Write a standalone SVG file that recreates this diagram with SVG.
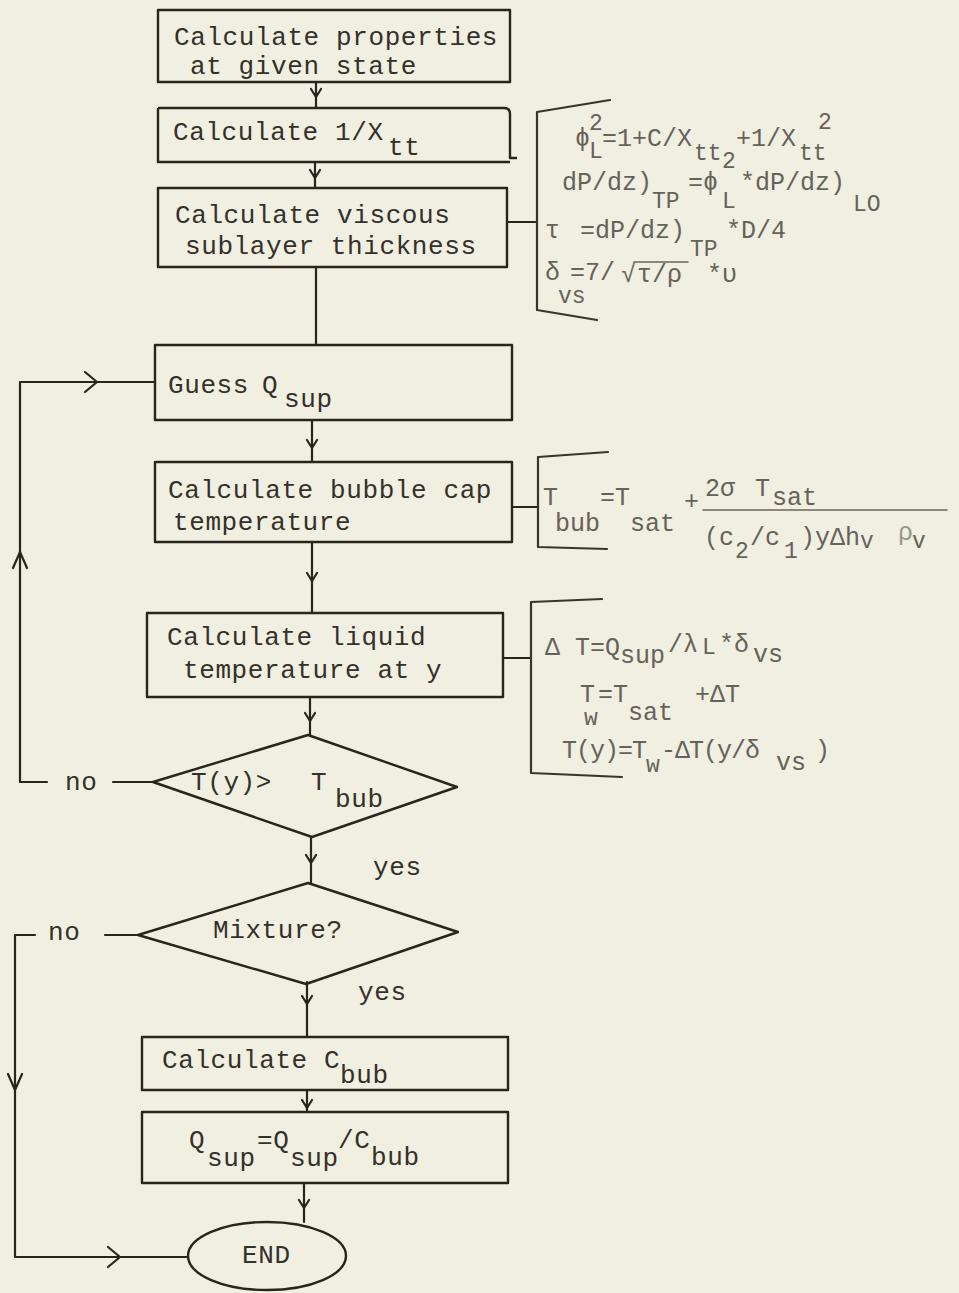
<svg xmlns="http://www.w3.org/2000/svg" width="959" height="1293" viewBox="0 0 959 1293">
<defs>
<style>
.bg{fill:#f1eee2}
.box{fill:none;stroke:#2a241c;stroke-width:2.4;stroke-linejoin:round}
.ln{fill:none;stroke:#2a241c;stroke-width:2.2;stroke-linecap:round;stroke-linejoin:round}
.br{fill:none;stroke:#3a342c;stroke-width:2.2;stroke-linecap:round;stroke-linejoin:round}
.t{font-family:"Liberation Mono","DejaVu Sans Mono",monospace;font-size:26px;letter-spacing:0.6px;fill:#35302a}
.e{font-family:"Liberation Mono","DejaVu Sans Mono",monospace;font-size:25px;fill:#66625a}
.s{font-size:23px}
.f{fill:#9a968c}
</style>
<path id="sd" class="ln" d="M-5,-8 L0,0 L5,-8"/>
<path id="bd" class="ln" d="M-7,-16 L0,0 L7,-16"/>
<path id="brt" class="ln" d="M-12,-10 L0,0 L-12,10"/>
<path id="bu" class="ln" d="M-7,16 L0,0 L7,16"/>
</defs>
<rect class="bg" x="0" y="0" width="959" height="1293"/>

<g id="connectors">
<path class="ln" d="M316,82 V108"/><use href="#sd" x="316" y="97"/>
<path class="ln" d="M315,162 V188"/><use href="#sd" x="315" y="178"/>
<path class="ln" d="M316,267 V345"/>
<path class="ln" d="M312,420 V462"/><use href="#sd" x="312" y="448"/>
<path class="ln" d="M312,542 V613"/><use href="#sd" x="312" y="581"/>
<path class="ln" d="M310,697 V735"/><use href="#sd" x="310" y="721"/>
<path class="ln" d="M311,837 V883"/><use href="#sd" x="311" y="863"/>
<path class="ln" d="M307,982 V1037"/><use href="#sd" x="307" y="1004"/>
<path class="ln" d="M307,1090 V1112"/><use href="#sd" x="307" y="1108"/>
<path class="ln" d="M304,1183 V1222"/><use href="#sd" x="304" y="1208"/>
<path class="ln" d="M153,782 H113"/>
<path class="ln" d="M47,782 H20 V382 H155"/>
<use href="#brt" x="97" y="382"/>
<use href="#bu" x="20" y="552"/>
<path class="ln" d="M138,935 H105"/>
<path class="ln" d="M35,935 H15 V1257 H188"/>
<use href="#bd" x="15" y="1090"/>
<use href="#brt" x="120" y="1257"/>
<path class="ln" d="M507,222 H537"/>
<path class="ln" d="M512,507 H537"/>
<path class="ln" d="M503,658 H530"/>
</g>

<g id="n1">
<rect class="box" x="158" y="10" width="352" height="72"/>
<text class="t" x="174" y="45">Calculate properties</text>
<text class="t" x="190" y="74">at given state</text>
</g>

<g id="n2">
<path class="box" d="M158,108 H504 Q510,108 510,114 V158 L517,158 M158,108 V162 H510"/>
<text class="t" x="173" y="140">Calculate 1/X</text>
<text class="t" x="388" y="155">tt</text>
</g>

<g id="n3">
<rect class="box" x="158" y="188" width="349" height="79"/>
<text class="t" x="175" y="223">Calculate viscous</text>
<text class="t" x="185" y="254">sublayer thickness</text>
</g>

<g id="eq1">
<path class="br" d="M610,100 L537,112 V310 L597,320"/>
<text class="e" x="575" y="146">ϕ</text>
<text class="e s" x="589" y="130">2</text>
<text class="e s" x="589" y="158">L</text>
<text class="e" x="602" y="146">=1+C/X</text>
<text class="e s" x="694" y="160">tt</text>
<text class="e" x="736" y="146">+1/X</text>
<text class="e s" x="799" y="160">tt</text>
<text class="e s" x="818" y="129">2</text>
<text class="e" x="562" y="190">dP/dz)</text>
<text class="e s" x="652" y="208">TP</text>
<text class="e" x="688" y="190">=ϕ</text>
<text class="e s" x="722" y="168">2</text>
<text class="e s" x="722" y="208">L</text>
<text class="e" x="740" y="190">*dP/dz)</text>
<text class="e s" x="853" y="211">LO</text>
<text class="e" x="545" y="238">τ</text>
<text class="e" x="580" y="238">=dP/dz)</text>
<text class="e s" x="690" y="256">TP</text>
<text class="e" x="726" y="238">*D/4</text>
<text class="e" x="545" y="280">δ</text>
<text class="e s" x="558" y="303">vs</text>
<text class="e" x="570" y="280">=7/</text>
<text class="e" x="621" y="282">√</text>
<text class="e" x="637" y="282">τ/ρ</text>
<path class="br" d="M634,262 H688" style="stroke-width:1.6;stroke:#6a665e"/>
<text class="e" x="707" y="282">*υ</text>
</g>

<g id="n4">
<rect class="box" x="155" y="345" width="357" height="75"/>
<text class="t" x="168" y="393">Guess</text>
<text class="t" x="262" y="393">Q</text>
<text class="t" x="284" y="407">sup</text>
</g>

<g id="n5">
<rect class="box" x="155" y="462" width="357" height="80"/>
<text class="t" x="168" y="498">Calculate bubble cap</text>
<text class="t" x="173" y="530">temperature</text>
</g>

<g id="eq2">
<path class="br" d="M608,452 L538,457 V547 L607,549"/>
<text class="e" x="543" y="505">T</text>
<text class="e" x="555" y="531">bub</text>
<text class="e" x="600" y="505">=T</text>
<text class="e" x="630" y="531">sat</text>
<text class="e" x="684" y="509">+</text>
<text class="e" x="705" y="496">2σ</text>
<text class="e" x="755" y="496">T</text>
<text class="e" x="772" y="505">sat</text>
<path class="br" d="M703,510 H947" style="stroke-width:1.6;stroke:#6a665e"/>
<text class="e" x="704" y="545">(c</text>
<text class="e s" x="735" y="558">2</text>
<text class="e" x="750" y="545">/c</text>
<text class="e s" x="784" y="558">1</text>
<text class="e" x="800" y="545">)yΔh</text>
<text class="e s" x="860" y="548">v</text>
<text class="e f" x="898" y="540">ρ</text>
<text class="e s" x="912" y="548">v</text>
</g>

<g id="n6">
<rect class="box" x="147" y="613" width="356" height="84"/>
<text class="t" x="167" y="645">Calculate liquid</text>
<text class="t" x="183" y="678">temperature at y</text>
</g>

<g id="eq3">
<path class="br" d="M602,599 L531,602 V773 L622,777"/>
<text class="e" x="545" y="655">Δ T=Q</text>
<text class="e" x="620" y="663">sup</text>
<text class="e" x="668" y="652">/λ</text>
<text class="e s" x="702" y="654">L</text>
<text class="e" x="719" y="652">*δ</text>
<text class="e" x="753" y="662">vs</text>
<text class="e" x="580" y="702">T</text>
<text class="e s" x="584" y="725">w</text>
<text class="e" x="598" y="702">=T</text>
<text class="e" x="628" y="720">sat</text>
<text class="e" x="695" y="702">+ΔT</text>
<text class="e" x="562" y="758" letter-spacing="-1">T(y)=T</text>
<text class="e s" x="646" y="772">w</text>
<text class="e" x="661" y="758" letter-spacing="-1">-ΔT(y/δ</text>
<text class="e" x="776" y="770">vs</text>
<text class="e" x="815" y="758">)</text>
</g>

<g id="d1">
<polygon class="box" points="308,735 457,787 312,837 153,782"/>
<text class="t" x="191" y="790">T(y)&gt;</text>
<text class="t" x="311" y="790">T</text>
<text class="t" x="335" y="807">bub</text>
</g>

<g id="labels">
<text class="t" x="65" y="790">no</text>
<text class="t" x="373" y="875">yes</text>
<text class="t" x="48" y="940">no</text>
<text class="t" x="358" y="1000">yes</text>
</g>

<g id="d2">
<polygon class="box" points="308,883 458,932 306,984 138,935"/>
<text class="t" x="213" y="938">Mixture?</text>
</g>

<g id="n7">
<rect class="box" x="142" y="1037" width="366" height="53"/>
<text class="t" x="162" y="1068">Calculate C</text>
<text class="t" x="340" y="1083">bub</text>
</g>

<g id="n8">
<rect class="box" x="142" y="1112" width="366" height="71"/>
<text class="t" x="189" y="1148">Q</text>
<text class="t" x="207" y="1166">sup</text>
<text class="t" x="257" y="1148">=Q</text>
<text class="t" x="290" y="1166">sup</text>
<text class="t" x="338" y="1148">/C</text>
<text class="t" x="371" y="1165">bub</text>
</g>

<g id="end">
<ellipse class="box" cx="267" cy="1256" rx="79" ry="34"/>
<text class="t" x="242" y="1263">END</text>
</g>
</svg>
